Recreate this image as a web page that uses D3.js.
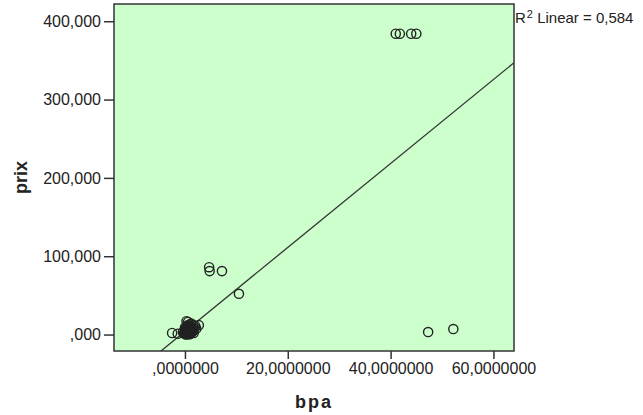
<!DOCTYPE html>
<html>
<head>
<meta charset="utf-8">
<script src="https://cdn.jsdelivr.net/npm/d3@7"></script>
<style>
  body { margin: 0; background: #fff; }
  text { font-family: "Liberation Sans", Arial, sans-serif; fill: #222; }
</style>
</head>
<body>
<div id="chart"></div>
<script>
var svgWidth = 643;
var svgHeight = 415;

var margin = { top: 4, right: 129, bottom: 64, left: 114 };
var width = svgWidth - margin.left - margin.right;
var height = svgHeight - margin.top - margin.bottom;

// data (bpa, prix)
var bpa = [41.0, 41.8, 44.0, 45.0, 47.3, 52.2, 4.7, 4.8, 7.2, 10.5,
  -2.5, -1.4, 0.3, 0.6, 1.6, 2.0, 0.1, 0.2, 0.4, 0.5, 0.7, 0.8, 1.0, 0.2,
  0.5, 1.1, 1.3, 1.5, -0.2, -0.4, 0.0, 0.1, 0.9, 1.8, 0.3, 0.6, 1.4, 1.2,
  0.9, 0.4, 1.7, 0.0, 0.6, 1.1, 2.7, 0.8,
  0.2, 0.3, 0.5, 0.6, 0.7, 0.8, 1.0, 1.1, 1.2, 0.4, 0.9, 1.3, 0.1, 0.5,
  0.7, 1.0, 0.3, 0.8, 1.2, 0.6, 1.5, 0.0, 0.4, 0.9, 1.6, 2.2];
var prix = [384, 384, 384, 384, 3.2, 7.0, 86, 81, 81, 52,
  2, 1, 17, 16, 12, 11, 0.5, 1, 2, 3, 4, 5, 6, 7,
  8, 9, 3, 5, 1.5, 3, 4, 6, 2, 8, 10, 12, 7, 14,
  0.5, 5, 2, 9, 1, 3, 12, 10,
  2.5, 4.5, 1.5, 6.5, 2.5, 3.5, 4.5, 1.5, 5.5, 7.5, 0.8, 9.5, 3.5, 5.5,
  8.5, 10.5, 0.2, 6.5, 2.5, 9.5, 3.5, 1.8, 11, 4.0, 6.0, 7.5];

var xTicks = [0, 20, 40, 60];
var yTicks = [0, 100, 200, 300, 400];
var fitIntercept = 4.0;
var fitSlope = 5.36;
var fitLabel = "0,584";

var svg = d3.select("#chart")
  .append("svg")
  .attr("width", svgWidth)
  .attr("height", svgHeight);

var chartGroup = svg.append("g")
  .attr("transform", `translate(${margin.left}, ${margin.top})`);

var xScale = d3.scaleLinear().domain([-13.8, 64]).range([0, width]);
var yScale = d3.scaleLinear().domain([-21, 422]).range([height, 0]);

// SPSS style number labels: comma decimal, no leading zero
function spss(n, digits) {
  var s = d3.format("." + digits + "f")(n).replace(".", ",");
  if (s.startsWith("0,")) s = s.slice(1);
  return s;
}

chartGroup.append("clipPath").attr("id", "plotclip")
  .append("rect").attr("width", width).attr("height", height);

chartGroup.append("rect")
  .attr("width", width)
  .attr("height", height)
  .attr("fill", "#ccffcc");

var bottomAxis = d3.axisBottom(xScale)
  .tickValues(xTicks)
  .tickSize(8)
  .tickPadding(4)
  .tickFormat(d => spss(d, 7));

var leftAxis = d3.axisLeft(yScale)
  .tickValues(yTicks)
  .tickSize(10)
  .tickPadding(3)
  .tickFormat(d => spss(d, 3));

var xAxis = chartGroup.append("g")
  .attr("transform", `translate(0, ${height})`)
  .call(bottomAxis);

var yAxis = chartGroup.append("g")
  .call(leftAxis);

[xAxis, yAxis].forEach(function(ax) {
  ax.select(".domain").remove();
  ax.selectAll(".tick line").attr("stroke", "#333").attr("stroke-width", 1.5);
  ax.selectAll(".tick text")
    .attr("font-family", "Liberation Sans, Arial, sans-serif")
    .attr("font-size", 16)
    .attr("fill", "#222");
});

// fit line
var lineX = xScale.domain();
chartGroup.append("line")
  .attr("clip-path", "url(#plotclip)")
  .attr("x1", xScale(lineX[0]))
  .attr("y1", yScale(fitIntercept + fitSlope * lineX[0]))
  .attr("x2", xScale(lineX[1]))
  .attr("y2", yScale(fitIntercept + fitSlope * lineX[1]))
  .attr("stroke", "#333")
  .attr("stroke-width", 1.3);

var points = bpa.map((b, i) => ({ bpa: b, prix: prix[i] }));

chartGroup.append("g").attr("clip-path", "url(#plotclip)")
  .selectAll("circle")
  .data(points)
  .enter()
  .append("circle")
  .attr("cx", d => xScale(d.bpa))
  .attr("cy", d => yScale(d.prix))
  .attr("r", 4.6)
  .attr("fill", "none")
  .attr("stroke", "#222")
  .attr("stroke-width", 1.4);

// frame
chartGroup.append("rect")
  .attr("width", width)
  .attr("height", height)
  .attr("fill", "none")
  .attr("stroke", "#333")
  .attr("stroke-width", 1.5);

// fit label
var r2 = svg.append("text")
  .attr("x", margin.left + width + 1)
  .attr("y", 23)
  .attr("font-size", 15);
r2.append("tspan").text("R");
r2.append("tspan").attr("font-size", 11).attr("dy", -5).attr("dx", 1).text("2");
r2.append("tspan").attr("dy", 5).text(" Linear = " + fitLabel);

// axis titles
svg.append("text")
  .attr("x", margin.left + width / 2)
  .attr("y", 408)
  .attr("text-anchor", "middle")
  .attr("font-size", 18)
  .attr("font-weight", "bold")
  .attr("letter-spacing", 2)
  .text("bpa");

svg.append("text")
  .attr("transform", `translate(27, ${margin.top + height / 2}) rotate(-90)`)
  .attr("text-anchor", "middle")
  .attr("font-size", 18)
  .attr("font-weight", "bold")
  .text("prix");
</script>
</body>
</html>
